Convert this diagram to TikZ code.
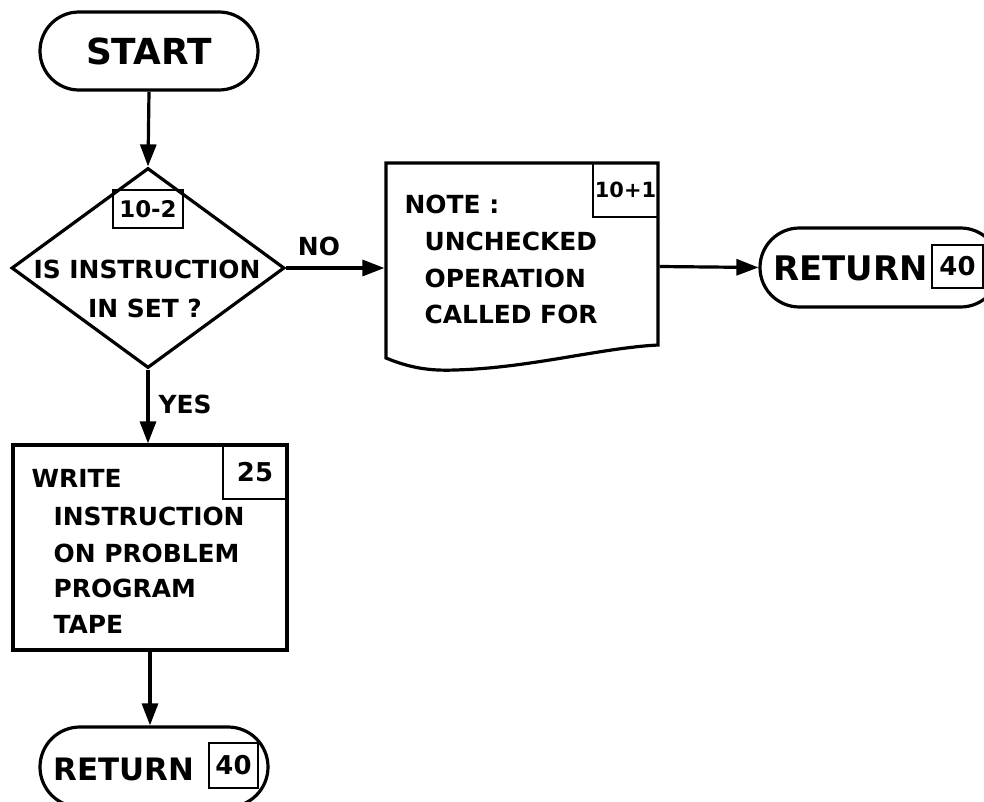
\documentclass[tikz,border=0pt]{standalone}
\usepackage{fontspec}
\setmainfont{DejaVu Sans}
\newfontfamily\handfont{DejaVu Sans Bold}
\newcommand\hfBody{\handfont\fontsize{25}{30}\selectfont}
\newcommand\hfBigA{\handfont\fontsize{34}{40}\selectfont}
\newcommand\hfBigB{\handfont\fontsize{31}{37}\selectfont}
\newcommand\hfStart{\handfont\fontsize{36}{44}\selectfont}
\newcommand\hfNum{\handfont\fontsize{23}{28}\selectfont}
\newcommand\hfNumL{\handfont\fontsize{26}{30}\selectfont}
\newcommand\hfNumS{\handfont\fontsize{21}{26}\selectfont}
\usetikzlibrary{shapes.geometric,shapes.misc,arrows.meta}
\begin{document}
\begin{tikzpicture}[x=1bp,y=-1bp,
  line width=3.2bp,
  term/.style={draw,rounded rectangle,inner sep=0pt},
  body/.style={font=\hfBody,inner sep=0pt},
  numbox/.style={draw,line width=2.8bp,inner sep=0pt,font=\hfNum},
  arr/.style={-{Triangle[length=22bp,width=16bp]}},
]
\useasboundingbox (0,0) rectangle (984,802);

% START
\node[term,minimum width=218bp,minimum height=78bp,font=\hfStart] (start) at (149,51) {START};

% decision
\node[diamond,draw,minimum width=273bp,minimum height=200bp,inner sep=0pt] (dec) at (148,268) {};
\node[numbox,minimum width=70bp,minimum height=38bp] (n102) at (148,209) {10-2};
\node[body,anchor=base] (q1) at (147,278) {IS INSTRUCTION};
\node[body,anchor=base] (q2) at (145,317) {IN SET ?};
\node[body,anchor=base] (no) at (319,255) {NO};
\node[body,anchor=base west] (yes) at (157,413) {YES};

% document (note)
\node[minimum width=272bp,minimum height=207bp,inner sep=0pt] (doc) at (522,266.5) {};
\draw (386,358) -- (386,163) -- (658,163) -- (658,345)
  .. controls (600,348) and (530,368) .. (455,370)
  .. controls (430,371) and (410,368) .. (386,358) -- cycle;
\node[numbox,minimum width=65bp,minimum height=54bp,font=\hfNumS] (n101) at (625.5,190) {10+1};
\node[body,anchor=base west] (d1) at (403,213) {NOTE :};
\node[body,anchor=base west] (d2) at (423,250) {UNCHECKED};
\node[body,anchor=base west] (d3) at (423,287) {OPERATION};
\node[body,anchor=base west] (d4) at (423,323) {CALLED FOR};

% return right
\node[term,minimum width=240bp,minimum height=79bp] (ret1) at (880,267.5) {};
\node[font=\hfBigA,inner sep=0pt,anchor=base west] (r1txt) at (772,280) {RETURN};
\node[numbox,minimum width=51bp,minimum height=43bp,font=\hfNumL] (n40a) at (957.5,266.5) {40};

% process
\node[draw,minimum width=274bp,minimum height=205bp,inner sep=0pt] (proc) at (150,547.5) {};
\node[numbox,minimum width=64bp,minimum height=54bp,font=\hfNumL] (n25) at (255,472) {25};
\node[body,anchor=base west] (p1) at (30,487) {WRITE};
\node[body,anchor=base west] (p2) at (52,525) {INSTRUCTION};
\node[body,anchor=base west] (p3) at (52,562) {ON PROBLEM};
\node[body,anchor=base west] (p4) at (52,597) {PROGRAM};
\node[body,anchor=base west] (p5) at (52,633) {TAPE};

% return bottom
\node[term,minimum width=228bp,minimum height=80bp] (ret2) at (154,767) {};
\node[font=\hfBigB,inner sep=0pt,anchor=base west] (r2txt) at (52,780) {RETURN};
\node[numbox,minimum width=49bp,minimum height=45bp,font=\hfNumL] (n40b) at (233.5,765.5) {40};

% connectors
\draw[arr] (start.south) -- (dec.north);
\draw[arr] (dec.east) -- (dec.east -| doc.west);
\draw[arr] (doc.east) -- (ret1.west);
\draw[arr] (dec.south) -- (dec.south |- proc.north);
\draw[arr] (proc.south) -- (proc.south |- ret2.north);
\end{tikzpicture}
\end{document}
